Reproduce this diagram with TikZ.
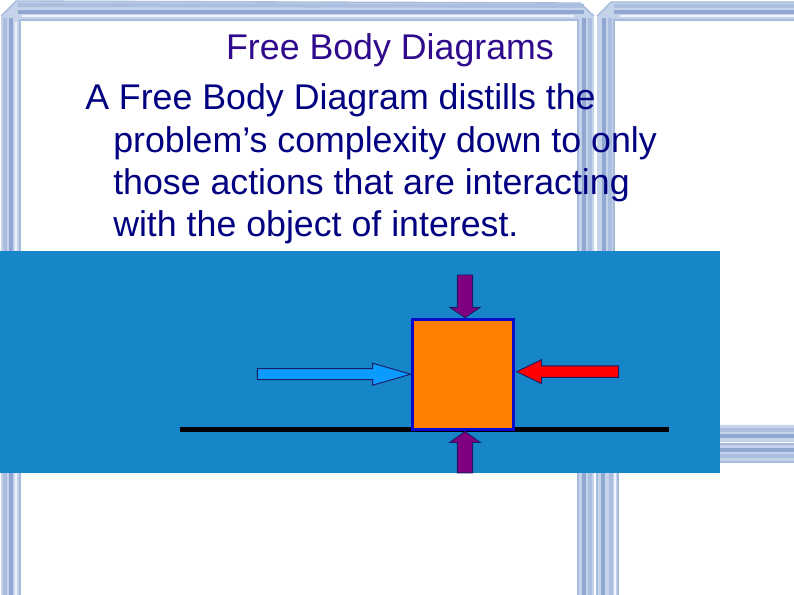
\documentclass[tikz,border=0pt]{standalone}
\usepackage{fontspec}
\setmainfont{Liberation Sans}
\usetikzlibrary{calc}
\definecolor{panelblue}{HTML}{1686C8}
\definecolor{titlecol}{HTML}{300A8C}
\definecolor{bodycol}{HTML}{000080}
\definecolor{frameL}{HTML}{C4D2EA}
\definecolor{frameM}{HTML}{A6BADD}
\definecolor{frameD}{HTML}{7F99CA}
\definecolor{boxfill}{HTML}{FF8000}
\definecolor{boxline}{HTML}{0A0ACC}
\definecolor{arrpurple}{HTML}{800080}
\definecolor{arrlight}{HTML}{0A9BFF}
\definecolor{arrred}{HTML}{FF0000}
\definecolor{arrline}{HTML}{1C1C66}
\tikzset{
  pics/barrow/.style n args={4}{code={
    \path[pic actions] (0,0) -- (-#2,#4) -- (-#2,#3) -- (-#1,#3) -- (-#1,-#3) -- (-#2,-#3) -- (-#2,-#4) -- cycle;
  }},
  framefill/.style={fill=frameL, even odd rule},
  stripe/.style={draw=frameD, line width=2.4pt, opacity=0.75},
  stripemid/.style={draw=frameM, line width=3pt, opacity=0.8},
  stripelight/.style={draw=white, line width=1.6pt, opacity=0.75},
  edge/.style={draw=frameM, line width=1pt},
  titletext/.style={font=\fontsize{26.8pt}{32pt}\selectfont, text=titlecol, inner sep=0pt},
  bodytext/.style={font=\fontsize{26.8pt}{32pt}\selectfont, text=bodycol, inner sep=0pt, anchor=base west},
  groundline/.style={draw=black, line width=3.8pt},
  bodybox/.style={draw=boxline, fill=boxfill, line width=2.25pt, inner sep=0pt,
    minimum width=76.2pt, minimum height=82.5pt},
  forcearrow/.style={draw=arrline, line width=0.7pt},
}
\begin{document}
\begin{tikzpicture}[x=0.75pt,y=-0.75pt]
\useasboundingbox (0,0) rectangle (794,595);
\fill[white] (0,0) rectangle (794,595);
% ---- window frame ----
% left pane
\path[framefill] (1,16) -- (16,1) -- (580,3) -- (594,16) -- (594,600) -- (1,600) -- cycle
  (20,20) rectangle (578,600);
\draw[stripemid] (5,18) -- (5,595);
\draw[stripe] (11,18) -- (11,595);
\draw[stripemid] (18,5) -- (584,6);
\draw[stripe] (18,12) -- (584,12);
\draw[stripe] (584,18) -- (584,595);
\draw[stripemid] (590,18) -- (590,595);
\draw[stripelight] (16,22) -- (16,595);
\draw[stripelight] (22,16) -- (574,16);
\draw[edge] (20,595) -- (20,20) -- (578,20) -- (578,595);
\draw[edge] (1,16) -- (16,1) -- (580,3) -- (594,16);
% right top pane
\path[framefill] (597,16) -- (611,2) -- (794,2) -- (794,442) -- (597,442) -- cycle
  (614,20) rectangle (794,425);
\draw[stripe] (604,18) -- (604,440);
\draw[stripemid] (610,18) -- (610,440);
\draw[stripemid] (614,6) -- (794,6);
\draw[stripe] (614,12) -- (794,12);
\draw[stripemid] (614,430) -- (794,430);
\draw[stripe] (614,436) -- (794,436);
\draw[stripelight] (620,16) -- (794,16);
\draw[edge] (614,440) -- (614,20) -- (794,20);
\draw[edge] (597,16) -- (611,2) -- (794,2);
% right bottom pane
\path[framefill] (597,444) rectangle (794,600) (618,462) rectangle (794,600);
\draw[stripe] (603,446) -- (603,595);
\draw[stripemid] (611,446) -- (611,595);
\draw[stripe] (618,450) -- (794,450);
\draw[stripemid] (618,456) -- (794,456);
\draw[stripelight] (615,470) -- (615,595);
\draw[edge] (618,595) -- (618,462) -- (794,462);
\draw[edge] (597,595) -- (597,444) -- (794,444);
% ---- text ----
\node[titletext, anchor=base] (title) at (390,60) {Free Body Diagrams};
\node[bodytext] (l1) at (85,109.5) {A Free Body Diagram distills the};
\node[bodytext] (l2) at (113,152.5) {problem’s complexity down to only};
\node[bodytext] (l3) at (113,195) {those actions that are interacting};
\node[bodytext] (l4) at (113,237) {with the object of interest.};
% ---- diagram panel ----
\fill[panelblue] (0,251) rectangle (720,473);
\coordinate (gL) at (180,429.5);
\coordinate (gR) at (669,429.5);
\draw[groundline] (gL) -- (gR);
\node[bodybox] (box) at (463,374.2) {};
% force arrows
\pic[forcearrow, fill=arrpurple, rotate=-90] at ([xshift=1.5pt]box.north) {barrow={42.7}{10.4}{7.7}{15.3}};
\pic[forcearrow, fill=arrpurple, rotate=90] at ([xshift=1.5pt,yshift=-0.6pt]box.south) {barrow={41.3}{11}{7.7}{15.3}};
\pic[forcearrow, fill=arrlight, rotate=0] at (box.west) {barrow={153.4}{38}{5.5}{11}};
\pic[forcearrow, fill=arrred, rotate=180] at ([xshift=1pt,yshift=1.9pt]box.east) {barrow={102}{25}{5.8}{12}};
\end{tikzpicture}
\end{document}
